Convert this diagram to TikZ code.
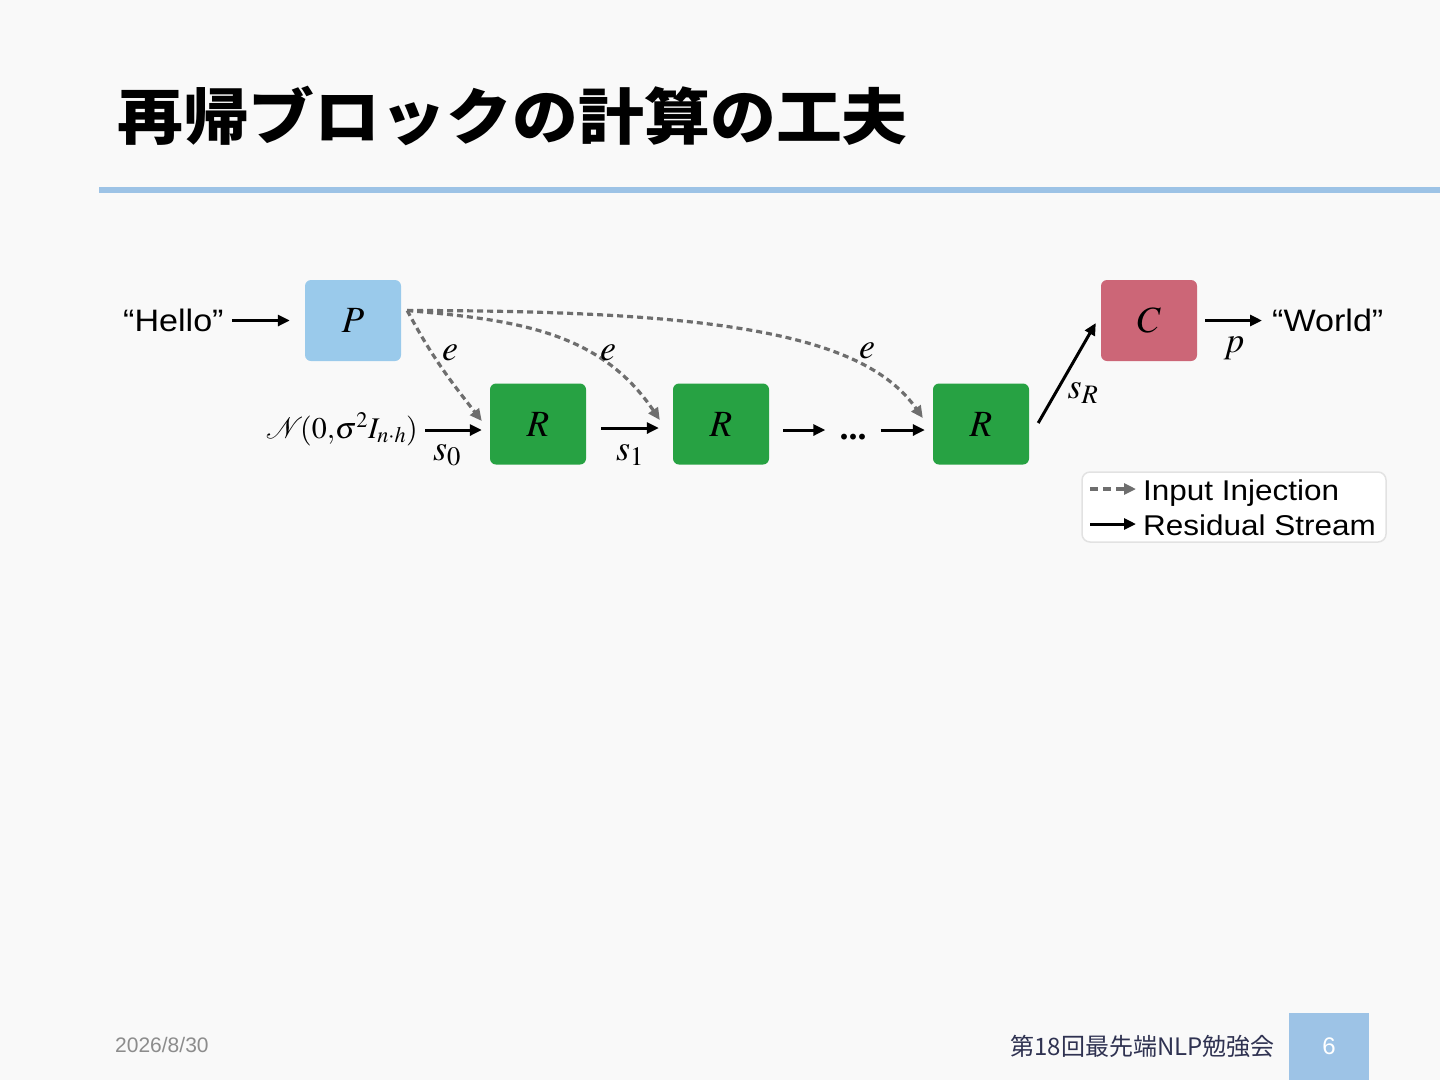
\documentclass[tikz,border=0pt]{standalone}
\usepackage{mathptmx}
\usepackage{fontspec}
\setmainfont{Liberation Serif}
\newfontfamily\sansf{Liberation Sans}[FakeStretch=1.1]
\newfontfamily\datef{Liberation Sans}
\newfontfamily\cjkb{Noto Sans CJK JP}[FakeStretch=1.08]
\newfontfamily\cjk{Noto Sans CJK JP}
\usetikzlibrary{arrows.meta}
\definecolor{bg}{HTML}{F9F9F9}
\definecolor{topline}{HTML}{9DC3E6}
\definecolor{pblue}{HTML}{9ACAEB}
\definecolor{rgreen}{HTML}{27A243}
\definecolor{crose}{HTML}{CC6677}
\definecolor{injgray}{HTML}{6E6E6E}
\definecolor{datecol}{HTML}{8C8C8C}
\definecolor{footcol}{HTML}{2F3251}
\definecolor{legbord}{HTML}{E2E2E2}
\tikzset{
  blk/.style={rounded corners=6pt, minimum width=96pt, minimum height=81pt, inner sep=0pt,
              font=\fontsize{37}{40}\selectfont},
  res/.style={line width=3pt, -{Triangle[length=12pt,width=11pt]}},
  inj/.style={line width=3.2pt, color=injgray, dash pattern=on 6pt off 4pt,
              -{Triangle[length=12pt,width=11pt]}},
  lbl/.style={inner sep=0pt, font=\fontsize{36}{40}\selectfont},
  sanslbl/.style={inner sep=0pt, font=\sansf\fontsize{31}{36}\selectfont, text height=22pt, text depth=0pt},
  leglbl/.style={inner sep=0pt, font=\sansf\fontsize{28.6}{34}\selectfont, text height=22pt, text depth=0pt},
}
\begin{document}
\begin{tikzpicture}[x=1pt,y=1pt]
\useasboundingbox (0,0) rectangle (1440,-1080);
\fill[bg] (0,0) rectangle (1440,-1080);

% title
\node[anchor=base west, inner sep=0pt, font=\cjkb\bfseries\fontsize{61}{70}\selectfont] (title) at (117,-139) {再帰ブロックの計算の工夫};
\fill[topline] (99,-186.5) rectangle (1440,-192.5);

% blocks
\node[blk, fill=pblue] (P) at (353,-320.5) {$P$};
\node[blk, fill=rgreen] (R1) at (538,-424) {$R$};
\node[blk, fill=rgreen] (R2) at (721,-424) {$R$};
\node[blk, fill=rgreen] (R3) at (981,-424) {$R$};
\node[blk, fill=crose] (C) at (1149,-320.5) {$C$};

% input / output
\node[sanslbl, anchor=west] (hello) at (123,-320.5) {“Hello”};
\node[sanslbl, anchor=west] (world) at (1272,-320.5) {“World”};
\draw[res, shorten <=8pt, shorten >=15pt] (hello) -- (P);
\draw[res, shorten <=8pt, shorten >=10pt] (C) -- (world);
\node[lbl, anchor=base] (plbl) at (1234,-352) {$p$};

% noise input
\node[inner sep=0pt, anchor=base east, font=\fontsize{30}{36}\selectfont] (noise) at (418,-438) {$\mathcal{N}\!(0{,}\sigma^2 I_{n\cdot h})$};
\draw[res, shorten <=7pt, shorten >=8pt] ([yshift=-6pt]R1.west -| noise.east) -- ([yshift=-6pt]R1.west);
\node[lbl, anchor=base] (s0) at (447,-460) {$s_0$};

% residual chain
\draw[res, shorten <=15pt, shorten >=14pt] ([yshift=-4pt]R1.east) -- ([yshift=-4pt]R2.west);
\node[lbl, anchor=base] (s1) at (630,-460) {$s_1$};
\node[inner sep=0pt, font=\fontsize{36}{40}\selectfont\bfseries] (dots) at (853,-437) {...};
\draw[res, shorten <=14pt, shorten >=14pt] ([yshift=-6pt]R2.east) -- ([yshift=-6pt]R2.east -| dots.west);
\draw[res, shorten <=14pt, shorten >=8pt] ([yshift=-6pt]R3.west -| dots.east) -- ([yshift=-6pt]R3.west);
\draw[res] ([xshift=9pt,yshift=1pt]R3.east) -- ([xshift=-5pt,yshift=-2.5pt]C.west);
\node[lbl, anchor=base] (sR) at (1083,-398) {$s_R$};

% input injection
\coordinate (Pe) at ([xshift=6pt,yshift=10pt]P.east);
\coordinate (R1in) at ([xshift=-8pt,yshift=3pt]R1.west);
\coordinate (R2in) at ([xshift=-13pt,yshift=4pt]R2.west);
\coordinate (R3in) at ([xshift=-10pt,yshift=6pt]R3.west);
\draw[inj] (Pe) to[out=-62,in=128] (R1in);
\draw[inj] (Pe) to[out=-5,in=124] (R2in);
\draw[inj] (Pe) to[out=0,in=125,out looseness=1.5,in looseness=0.5] (R3in);
\node[lbl, anchor=base] (e1) at (450,-360) {$e$};
\node[lbl, anchor=base] (e2) at (608,-360) {$e$};
\node[lbl, anchor=base] (e3) at (867,-358) {$e$};

% legend
\node[draw=legbord, line width=1.5pt, fill=white, rounded corners=8pt, minimum width=304pt, minimum height=70pt] (legend) at (1234,-507) {};
\node[leglbl, anchor=west] (li) at (1143,-489) {Input Injection};
\node[leglbl, anchor=west] (lr) at (1143,-524) {Residual Stream};
\draw[inj, dash pattern=on 8pt off 5pt] ([xshift=-53pt]li.west) -- ([xshift=-7pt]li.west);
\draw[res] ([xshift=-53pt]lr.west) -- ([xshift=-7pt]lr.west);

% footer
\node[anchor=west, inner sep=0pt, text=datecol, font=\datef\fontsize{21}{24}\selectfont] (date) at (115,-1045) {2026/8/30};
\node[anchor=east, inner sep=0pt, text=footcol, font=\cjk\fontsize{24}{28}\selectfont] (event) at (1275,-1046) {第18回最先端NLP勉強会};
\fill[topline] (1289,-1013) rectangle (1369,-1080);
\node[inner sep=0pt, text=white, font=\datef\fontsize{24}{28}\selectfont] (pagenum) at (1329,-1046) {6};
\end{tikzpicture}
\end{document}
